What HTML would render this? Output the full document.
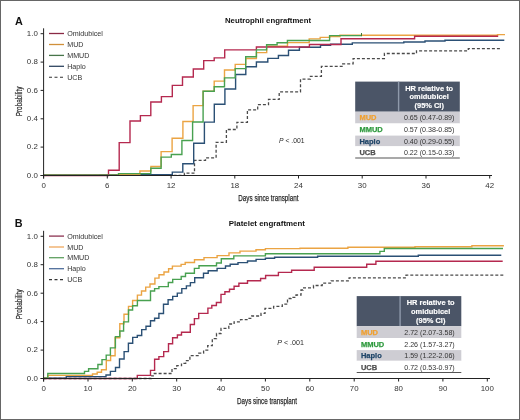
<!DOCTYPE html>
<html><head><meta charset="utf-8"><style>
html,body{margin:0;padding:0;background:#fff;}
body{width:520px;height:420px;overflow:hidden;font-family:"Liberation Sans",sans-serif;}
svg{display:block;will-change:transform;}
</style></head><body>
<svg width="520" height="420" viewBox="0 0 520 420" font-family="Liberation Sans, sans-serif">
<rect x="0" y="0" width="520" height="420" fill="#fff"/>
<rect x="0.5" y="0.5" width="519" height="419" fill="none" stroke="#666" stroke-width="1"/>
<text x="15" y="24.5" font-size="10.8" font-weight="bold" fill="#111">A</text>
<text x="14.8" y="226.9" font-size="10.8" font-weight="bold" fill="#111">B</text>
<text x="225" y="23.2" font-size="8.1" font-weight="bold" fill="#111" textLength="86" lengthAdjust="spacingAndGlyphs">Neutrophil engraftment</text>
<text x="228.8" y="225.8" font-size="8.1" font-weight="bold" fill="#111" textLength="76.2" lengthAdjust="spacingAndGlyphs">Platelet engraftment</text>
<text x="238.3" y="200.7" font-size="9" fill="#2a2a2a" stroke="#2a2a2a" stroke-width="0.25" textLength="60.2" lengthAdjust="spacingAndGlyphs">Days since transplant</text>
<text x="237" y="404" font-size="9" fill="#2a2a2a" stroke="#2a2a2a" stroke-width="0.25" textLength="60" lengthAdjust="spacingAndGlyphs">Days since transplant</text>
<text transform="translate(21.6,116.3) rotate(-90)" font-size="8.6" fill="#2a2a2a" stroke="#2a2a2a" stroke-width="0.2" textLength="29.8" lengthAdjust="spacingAndGlyphs">Probability</text>
<text transform="translate(21.6,319.2) rotate(-90)" font-size="8.6" fill="#2a2a2a" stroke="#2a2a2a" stroke-width="0.2" textLength="29.8" lengthAdjust="spacingAndGlyphs">Probability</text>
<line x1="49" y1="33.5" x2="64" y2="33.5" stroke="#8a2a45" stroke-width="1.3"/>
<text x="67.2" y="36.0" font-size="7.15" fill="#333">Omidubicel</text>
<line x1="49" y1="44.5" x2="64" y2="44.5" stroke="#d0903a" stroke-width="1.3"/>
<text x="67.2" y="47.0" font-size="7.15" fill="#333">MUD</text>
<line x1="49" y1="55.4" x2="64" y2="55.4" stroke="#47754a" stroke-width="1.3"/>
<text x="67.2" y="57.9" font-size="7.15" fill="#333">MMUD</text>
<line x1="49" y1="66.3" x2="64" y2="66.3" stroke="#2f4560" stroke-width="1.3"/>
<text x="67.2" y="68.8" font-size="7.15" fill="#333">Haplo</text>
<line x1="49" y1="77.3" x2="64" y2="77.3" stroke="#333" stroke-width="1.1" stroke-dasharray="3,2.5"/>
<text x="67.2" y="79.8" font-size="7.15" fill="#333">UCB</text>
<line x1="49" y1="236.1" x2="64" y2="236.1" stroke="#8c3352" stroke-width="1.3"/>
<text x="67.2" y="238.7" font-size="7.15" fill="#333">Omidubicel</text>
<line x1="49" y1="247.0" x2="64" y2="247.0" stroke="#eea85e" stroke-width="1.3"/>
<text x="67.2" y="249.6" font-size="7.15" fill="#333">MUD</text>
<line x1="49" y1="257.7" x2="64" y2="257.7" stroke="#5fa060" stroke-width="1.3"/>
<text x="67.2" y="260.2" font-size="7.15" fill="#333">MMUD</text>
<line x1="49" y1="268.7" x2="64" y2="268.7" stroke="#4f6d9a" stroke-width="1.3"/>
<text x="67.2" y="271.2" font-size="7.15" fill="#333">Haplo</text>
<line x1="49" y1="279.6" x2="64" y2="279.6" stroke="#333" stroke-width="1.1" stroke-dasharray="3,2.5"/>
<text x="67.2" y="282.2" font-size="7.15" fill="#333">UCB</text>
<text x="279.1" y="142.9" font-size="7.5" fill="#2a2a2a" textLength="25.5" lengthAdjust="spacingAndGlyphs"><tspan font-style="italic">P</tspan> &lt; .001</text>
<text x="277.3" y="344.9" font-size="7.5" fill="#2a2a2a" textLength="26.6" lengthAdjust="spacingAndGlyphs"><tspan font-style="italic">P</tspan> &lt; .001</text>
<g fill="none" stroke-width="1.4" stroke-linejoin="miter">
<path d="M43.6,175.3H184.4V173.2H194.5V160.3H205.5V157.8H216.1V142.3H226.4V129.5H236.9V122.3H247.4V109.8H257.7V104.6H268.5V99.3H279.2V91.8H300.5V79.2H310.4V76.4H321.4V66.4H342.7V63.9H353.1V58.6H384.4V53.5H416.5V50.8H468.3V48.6H500.4" stroke="#4a4a4a" stroke-dasharray="3,2" stroke-width="1.3"/>
<path d="M43.6,175.0H100.0V174.6H172.3V172.1H182.8V163.7H193.7V143.3H204.4V122.1H214.3V104.2H224.9V89.0H235.6V74.5H245.8V66.8H256.4V62.0H267.8V58.4H278.4V55.5H288.5V50.3H299.4V47.3H320.5V45.3H330.6V44.2H352.3V42.9H403.8V42.0H425.0V41.0H445.0V40.3H504.3" stroke="#2b5075"/>
<path d="M43.6,175.3H118.0V174.6H139.9V171.0H150.9V166.5H161.1V151.6H172.1V138.3H182.9V121.5H193.1V105.6H203.1V91.3H214.2V81.1H224.5V70.0H235.2V64.4H245.7V58.5H256.4V52.6H266.7V46.2H287.5V42.6H309.2V38.9H320.2V37.4H329.6V36.5H340.0V35.3H497.5V34.6H505.0" stroke="#eba443"/>
<path d="M43.6,175.5H108.5V170.2H119.2V142.6H130.0V121.0H140.4V115.6H150.8V102.0H161.4V96.6H172.3V85.4H182.5V77.0H193.3V69.0H203.7V60.6H214.2V57.9H224.7V49.9H256.4V47.0H309.4V44.5H341.0V38.8H414.6V36.3H498.2" stroke="#b5294f"/>
<path d="M43.6,175.3H118.5V173.6H150.8V168.3H161.1V157.1H171.3V154.5H181.9V140.5H192.6V122.0H203.1V91.3H214.2V86.8H224.5V77.9H235.2V68.6H245.7V56.7H256.4V49.9H266.6V44.8H277.1V42.7H287.4V40.5H329.6V35.6H361.5" stroke="#48a150"/>
<path d="M43.6,378.5H151.2V375.8H154.3V373.5H172.0V368.7H176.8V365.7H181.5V363.3H185.7V360.7H189.9V355.6H198.8V353.2H203.6V350.2H207.7V345.7H212.3V338.6H216.5V333.5H221.0V328.4H228.8V324.0H234.1V321.8H240.5V319.6H247.0V318.3H251.7V316.0H261.0V313.4H265.0V308.3H273.6V306.3H282.3V304.2H287.5V298.5H291.0V297.3H296.0V295.0H301.0V290.0H303.0V287.9H313.5V285.5H322.2V283.1H331.2V280.8H349.1V277.8H406.0V275.2H504.8" stroke="#4a4a4a" stroke-dasharray="3,2" stroke-width="1.3"/>
<path d="M43.6,378.5H137.3V375.4H150.5V370.4H154.6V359.2H158.9V356.6H163.7V351.6H168.5V343.7H172.6V337.7H177.4V335.0H181.5V332.2H190.3V324.5H194.4V318.6H198.7V313.4H207.9V308.1H211.8V305.5H216.4V302.5H221.0V294.4H224.9V291.8H229.5V289.2H234.1V286.3H238.9V283.3H247.5V280.8H260.6V278.5H265.6V275.5H278.4V272.4H291.6V270.2H314.2V267.3H366.7V264.2H375.9V261.3H502.7" stroke="#b5294f"/>
<path d="M43.6,378.3H66.3V376.6H106.0V375.0H110.4V371.4H115.5V367.5H119.5V359.0H124.1V351.6H128.4V343.2H132.7V337.4H137.3V335.5H141.7V329.6H146.0V326.2H150.5V320.7H154.6V318.3H158.9V313.5H163.5V304.3H168.1V299.7H172.7V296.4H177.3V293.1H181.8V288.6H186.4V285.9H190.4V282.6H194.7V277.7H203.5V273.3H208.2V270.7H217.1V268.4H225.5V266.0H230.2V264.2H238.0V262.6H247.5V261.0H256.1V259.4H265.4V258.2H274.6V257.2H317.6V256.3H418.3V255.3H501.3" stroke="#2b5075"/>
<path d="M43.6,378.3H47.8V375.4H92.5V374.0H97.2V372.2H101.5V369.8H106.3V360.5H110.6V355.8H115.1V337.8H119.8V323.8H124.0V314.2H128.5V306.4H132.6V300.5H137.4V295.1H141.5V291.0H145.7V287.1H150.0V284.0H154.9V278.1H159.0V274.8H164.0V272.0H168.6V268.8H172.4V266.1H181.1V264.4H185.2V262.5H194.5V259.7H204.0V257.6H217.1V255.6H229.0V252.9H240.0V251.1H256.0V249.8H265.4V248.6H300.0V248.2H347.9V247.3H415.0V246.8H471.9V245.7H503.9" stroke="#eba443"/>
<path d="M43.6,378.3H47.8V373.5H84.5V371.4H88.6V368.7H97.9V364.5H102.0V359.6H106.2V355.1H110.4V347.9H115.4V336.6H119.8V331.0H123.6V321.9H128.5V310.0H132.6V305.8H137.4V300.5H150.5V291.0H154.6V288.6H158.9V286.6H168.3V282.5H172.7V279.4H181.2V276.5H185.5V273.3H194.4V268.4H199.0V265.7H216.5V263.0H221.3V258.8H233.8V255.9H265.4V253.7H379.9V251.4H384.3V248.5H503.0" stroke="#48a150"/>
</g>
<line x1="361.5" y1="33" x2="361.5" y2="36.2" stroke="#3d7a35" stroke-width="1"/>
<line x1="43.6" y1="28.3" x2="43.6" y2="178.5" stroke="#222" stroke-width="1"/>
<line x1="40.6" y1="175.5" x2="492" y2="175.5" stroke="#222" stroke-width="1"/>
<line x1="40.6" y1="175.5" x2="43.6" y2="175.5" stroke="#222" stroke-width="1"/>
<text x="37.8" y="177.8" text-anchor="end" font-size="7.9" fill="#333">0.0</text>
<line x1="40.6" y1="147.1" x2="43.6" y2="147.1" stroke="#222" stroke-width="1"/>
<text x="37.8" y="149.4" text-anchor="end" font-size="7.9" fill="#333">0.2</text>
<line x1="40.6" y1="118.8" x2="43.6" y2="118.8" stroke="#222" stroke-width="1"/>
<text x="37.8" y="121.1" text-anchor="end" font-size="7.9" fill="#333">0.4</text>
<line x1="40.6" y1="90.4" x2="43.6" y2="90.4" stroke="#222" stroke-width="1"/>
<text x="37.8" y="92.7" text-anchor="end" font-size="7.9" fill="#333">0.6</text>
<line x1="40.6" y1="62.1" x2="43.6" y2="62.1" stroke="#222" stroke-width="1"/>
<text x="37.8" y="64.4" text-anchor="end" font-size="7.9" fill="#333">0.8</text>
<line x1="40.6" y1="33.7" x2="43.6" y2="33.7" stroke="#222" stroke-width="1"/>
<text x="37.8" y="36.0" text-anchor="end" font-size="7.9" fill="#333">1.0</text>
<line x1="43.6" y1="175.5" x2="43.6" y2="178.5" stroke="#222" stroke-width="1"/>
<text x="43.6" y="188.3" text-anchor="middle" font-size="7.9" fill="#333">0</text>
<line x1="107.3" y1="175.5" x2="107.3" y2="178.5" stroke="#222" stroke-width="1"/>
<text x="107.3" y="188.3" text-anchor="middle" font-size="7.9" fill="#333">6</text>
<line x1="171.1" y1="175.5" x2="171.1" y2="178.5" stroke="#222" stroke-width="1"/>
<text x="171.1" y="188.3" text-anchor="middle" font-size="7.9" fill="#333">12</text>
<line x1="234.8" y1="175.5" x2="234.8" y2="178.5" stroke="#222" stroke-width="1"/>
<text x="234.8" y="188.3" text-anchor="middle" font-size="7.9" fill="#333">18</text>
<line x1="298.5" y1="175.5" x2="298.5" y2="178.5" stroke="#222" stroke-width="1"/>
<text x="298.5" y="188.3" text-anchor="middle" font-size="7.9" fill="#333">24</text>
<line x1="362.2" y1="175.5" x2="362.2" y2="178.5" stroke="#222" stroke-width="1"/>
<text x="362.2" y="188.3" text-anchor="middle" font-size="7.9" fill="#333">30</text>
<line x1="426.0" y1="175.5" x2="426.0" y2="178.5" stroke="#222" stroke-width="1"/>
<text x="426.0" y="188.3" text-anchor="middle" font-size="7.9" fill="#333">36</text>
<line x1="489.7" y1="175.5" x2="489.7" y2="178.5" stroke="#222" stroke-width="1"/>
<text x="489.7" y="188.3" text-anchor="middle" font-size="7.9" fill="#333">42</text>
<line x1="43.6" y1="230.8" x2="43.6" y2="381.5" stroke="#222" stroke-width="1"/>
<line x1="40.6" y1="378.5" x2="490" y2="378.5" stroke="#222" stroke-width="1"/>
<line x1="40.6" y1="378.5" x2="43.6" y2="378.5" stroke="#222" stroke-width="1"/>
<text x="37.8" y="380.8" text-anchor="end" font-size="7.9" fill="#333">0.0</text>
<line x1="40.6" y1="350.1" x2="43.6" y2="350.1" stroke="#222" stroke-width="1"/>
<text x="37.8" y="352.4" text-anchor="end" font-size="7.9" fill="#333">0.2</text>
<line x1="40.6" y1="321.6" x2="43.6" y2="321.6" stroke="#222" stroke-width="1"/>
<text x="37.8" y="323.9" text-anchor="end" font-size="7.9" fill="#333">0.4</text>
<line x1="40.6" y1="293.2" x2="43.6" y2="293.2" stroke="#222" stroke-width="1"/>
<text x="37.8" y="295.5" text-anchor="end" font-size="7.9" fill="#333">0.6</text>
<line x1="40.6" y1="264.7" x2="43.6" y2="264.7" stroke="#222" stroke-width="1"/>
<text x="37.8" y="267.0" text-anchor="end" font-size="7.9" fill="#333">0.8</text>
<line x1="40.6" y1="236.3" x2="43.6" y2="236.3" stroke="#222" stroke-width="1"/>
<text x="37.8" y="238.6" text-anchor="end" font-size="7.9" fill="#333">1.0</text>
<line x1="43.6" y1="378.5" x2="43.6" y2="381.5" stroke="#222" stroke-width="1"/>
<text x="43.6" y="391.3" text-anchor="middle" font-size="7.9" fill="#333">0</text>
<line x1="88.0" y1="378.5" x2="88.0" y2="381.5" stroke="#222" stroke-width="1"/>
<text x="88.0" y="391.3" text-anchor="middle" font-size="7.9" fill="#333">10</text>
<line x1="132.3" y1="378.5" x2="132.3" y2="381.5" stroke="#222" stroke-width="1"/>
<text x="132.3" y="391.3" text-anchor="middle" font-size="7.9" fill="#333">20</text>
<line x1="176.7" y1="378.5" x2="176.7" y2="381.5" stroke="#222" stroke-width="1"/>
<text x="176.7" y="391.3" text-anchor="middle" font-size="7.9" fill="#333">30</text>
<line x1="221.1" y1="378.5" x2="221.1" y2="381.5" stroke="#222" stroke-width="1"/>
<text x="221.1" y="391.3" text-anchor="middle" font-size="7.9" fill="#333">40</text>
<line x1="265.4" y1="378.5" x2="265.4" y2="381.5" stroke="#222" stroke-width="1"/>
<text x="265.4" y="391.3" text-anchor="middle" font-size="7.9" fill="#333">50</text>
<line x1="309.8" y1="378.5" x2="309.8" y2="381.5" stroke="#222" stroke-width="1"/>
<text x="309.8" y="391.3" text-anchor="middle" font-size="7.9" fill="#333">60</text>
<line x1="354.2" y1="378.5" x2="354.2" y2="381.5" stroke="#222" stroke-width="1"/>
<text x="354.2" y="391.3" text-anchor="middle" font-size="7.9" fill="#333">70</text>
<line x1="398.6" y1="378.5" x2="398.6" y2="381.5" stroke="#222" stroke-width="1"/>
<text x="398.6" y="391.3" text-anchor="middle" font-size="7.9" fill="#333">80</text>
<line x1="442.9" y1="378.5" x2="442.9" y2="381.5" stroke="#222" stroke-width="1"/>
<text x="442.9" y="391.3" text-anchor="middle" font-size="7.9" fill="#333">90</text>
<line x1="487.3" y1="378.5" x2="487.3" y2="381.5" stroke="#222" stroke-width="1"/>
<text x="487.3" y="391.3" text-anchor="middle" font-size="7.9" fill="#333">100</text>
<rect x="355.2" y="81.6" width="104.6" height="30.1" fill="#4b5567"/>
<rect x="397.9" y="81.6" width="1.4" height="30.1" fill="#8f9aab"/>
<rect x="355.2" y="111.7" width="104.6" height="11.8" fill="#cecdd3"/>
<rect x="355.2" y="123.5" width="104.6" height="12.1" fill="#ffffff"/>
<rect x="355.2" y="135.6" width="104.6" height="10.7" fill="#cecdd3"/>
<rect x="355.2" y="146.3" width="104.6" height="11.3" fill="#ffffff"/>
<rect x="355.2" y="157.5" width="104.6" height="1" fill="#555"/>
<text x="429.2" y="90.6" text-anchor="middle" font-size="7.45" font-weight="bold" fill="#fff" stroke="#fff" stroke-width="0.15">HR relative to</text>
<text x="429.2" y="99.3" text-anchor="middle" font-size="7.45" font-weight="bold" fill="#fff" stroke="#fff" stroke-width="0.15">omidubicel</text>
<text x="429.2" y="108.1" text-anchor="middle" font-size="7.45" font-weight="bold" fill="#fff" stroke="#fff" stroke-width="0.15">(95% CI)</text>
<text x="359.4" y="120.1" font-size="7.5" font-weight="bold" fill="#f0a030" stroke="#f0a030" stroke-width="0.25">MUD</text>
<text x="429.2" y="120.1" text-anchor="middle" font-size="7.1" fill="#333">0.65 (0.47-0.89)</text>
<text x="359.4" y="132.0" font-size="7.5" font-weight="bold" fill="#2f9a3e" stroke="#2f9a3e" stroke-width="0.25">MMUD</text>
<text x="429.2" y="132.0" text-anchor="middle" font-size="7.1" fill="#333">0.57 (0.38-0.85)</text>
<text x="359.4" y="143.7" font-size="7.5" font-weight="bold" fill="#1f4568" stroke="#1f4568" stroke-width="0.25">Haplo</text>
<text x="429.2" y="143.7" text-anchor="middle" font-size="7.1" fill="#333">0.40 (0.29-0.55)</text>
<text x="359.4" y="155.0" font-size="7.5" font-weight="bold" fill="#505050" stroke="#505050" stroke-width="0.25">UCB</text>
<text x="429.2" y="155.0" text-anchor="middle" font-size="7.1" fill="#333">0.22 (0.15-0.33)</text>
<rect x="356.7" y="296.1" width="104.6" height="30.1" fill="#4b5567"/>
<rect x="399.4" y="296.1" width="1.4" height="30.1" fill="#8f9aab"/>
<rect x="356.7" y="326.2" width="104.6" height="11.8" fill="#cecdd3"/>
<rect x="356.7" y="338.0" width="104.6" height="12.1" fill="#ffffff"/>
<rect x="356.7" y="350.1" width="104.6" height="10.7" fill="#cecdd3"/>
<rect x="356.7" y="360.8" width="104.6" height="11.3" fill="#ffffff"/>
<rect x="356.7" y="372.0" width="104.6" height="1" fill="#555"/>
<text x="430.7" y="305.1" text-anchor="middle" font-size="7.45" font-weight="bold" fill="#fff" stroke="#fff" stroke-width="0.15">HR relative to</text>
<text x="430.7" y="313.8" text-anchor="middle" font-size="7.45" font-weight="bold" fill="#fff" stroke="#fff" stroke-width="0.15">omidubicel</text>
<text x="430.7" y="322.6" text-anchor="middle" font-size="7.45" font-weight="bold" fill="#fff" stroke="#fff" stroke-width="0.15">(95% CI)</text>
<text x="360.9" y="334.6" font-size="7.5" font-weight="bold" fill="#f0a030" stroke="#f0a030" stroke-width="0.25">MUD</text>
<text x="429.5" y="334.6" text-anchor="middle" font-size="7.1" fill="#333">2.72 (2.07-3.58)</text>
<text x="360.9" y="346.5" font-size="7.5" font-weight="bold" fill="#2f9a3e" stroke="#2f9a3e" stroke-width="0.25">MMUD</text>
<text x="429.5" y="346.5" text-anchor="middle" font-size="7.1" fill="#333">2.26 (1.57-3.27)</text>
<text x="360.9" y="358.2" font-size="7.5" font-weight="bold" fill="#1f4568" stroke="#1f4568" stroke-width="0.25">Haplo</text>
<text x="429.5" y="358.2" text-anchor="middle" font-size="7.1" fill="#333">1.59 (1.22-2.06)</text>
<text x="360.9" y="369.5" font-size="7.5" font-weight="bold" fill="#505050" stroke="#505050" stroke-width="0.25">UCB</text>
<text x="429.5" y="369.5" text-anchor="middle" font-size="7.1" fill="#333">0.72 (0.53-0.97)</text>
</svg>
</body></html>
